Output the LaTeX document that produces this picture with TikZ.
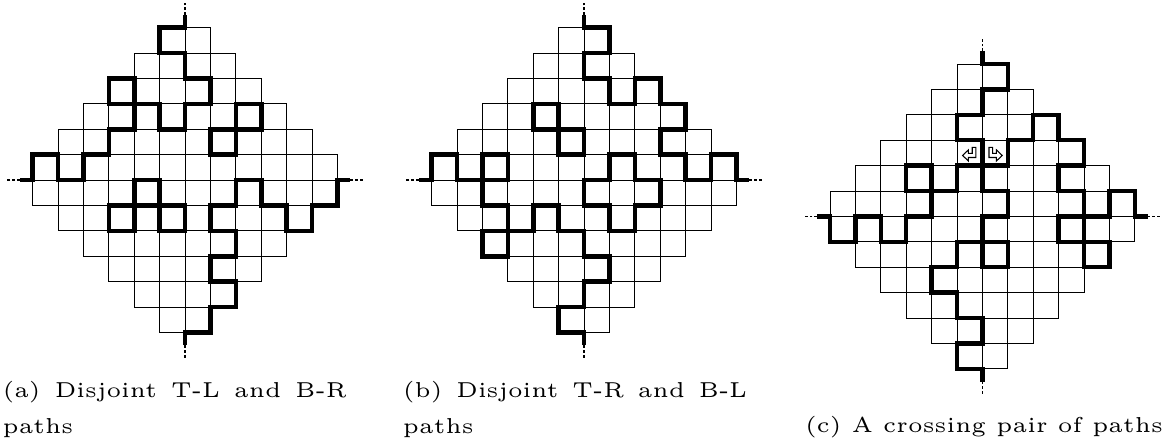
\documentclass[tikz,border=0pt]{standalone}
\usepackage{tikz}
\usetikzlibrary{positioning}

% Aztec diamond of order 6, cells of side 1
\newcommand{\aztecgrid}{%
  \foreach \r in {0,...,11}{%
    \pgfmathtruncatemacro{\azh}{min(\r,11-\r)}%
    \pgfmathtruncatemacro{\azlo}{5-\azh}%
    \pgfmathtruncatemacro{\azhi}{6+\azh}%
    \foreach \c in {\azlo,...,\azhi}{\draw[cellline] (\c,\r) rectangle +(1,1);}%
  }}

\begin{document}
\begin{tikzpicture}[x=5mm, y=-5mm, line join=miter,
    cellline/.style={line width=0.5pt},
    walk/.style={line width=2.5pt},
    tail/.style={line width=1pt, dash pattern=on 1.6pt off 1.1pt},
    turn/.style={line width=0.6pt, fill=white},
    subcap/.style={font=\fontsize{5}{8.4}\selectfont, scale=2.42, transform shape, inner sep=0pt},
    subpar/.style={subcap, text width=2.8cm, align=justify}]
  \useasboundingbox (0,0) rectangle (46.063,17.480);

  % (a) disjoint T-L and B-R
  \begin{scope}[shift={(1.287,1.091)}]
    \aztecgrid
    \draw[walk] (6,-0.5) -- (6,0) -- (5,0) -- (5,1) -- (6,1) -- (6,2) -- (7,2) -- (7,3) -- (6,3) -- (6,4) -- (5,4) -- (5,3)
      -- (4,3) -- (4,2) -- (3,2) -- (3,3) -- (4,3) -- (4,4) -- (3,4) -- (3,5) -- (2,5) -- (2,6) -- (1,6) -- (1,5) -- (0,5)
      -- (0,6) -- (-0.5,6);
    \draw[walk] (8,4) -- (8,3) -- (9,3) -- (9,4) -- (7,4) -- (7,5) -- (8,5) -- cycle;
    \draw[walk] (4,7) -- (4,6) -- (5,6) -- (5,8) -- (6,8) -- (6,7) -- (3,7) -- (3,8) -- (4,8) -- cycle;
    \draw[walk] (6,12.5) -- (6,12) -- (7,12) -- (7,11) -- (8,11) -- (8,10) -- (7,10) -- (7,9) -- (8,9) -- (8,8) -- (7,8)
      -- (7,7) -- (8,7) -- (8,6) -- (9,6) -- (9,7) -- (10,7) -- (10,8) -- (11,8) -- (11,7) -- (12,7) -- (12,6) -- (12.5,6);
    \draw[tail] (6,-0.5) -- (6,-1.05);
    \draw[tail] (-0.5,6) -- (-1.05,6);
    \draw[tail] (12.5,6) -- (13.05,6);
    \draw[tail] (6,12.5) -- (6,13.05);
  \end{scope}

  % (b) disjoint T-R and B-L
  \begin{scope}[shift={(16.995,1.091)}]
    \aztecgrid
    \draw[walk] (6,-0.5) -- (6,0) -- (7,0) -- (7,1) -- (6,1) -- (6,2) -- (7,2) -- (7,3) -- (8,3) -- (8,2) -- (9,2) -- (9,3)
      -- (10,3) -- (10,4) -- (9,4) -- (9,5) -- (10,5) -- (10,6) -- (11,6) -- (11,5) -- (12,5) -- (12,6) -- (12.5,6);
    \draw[walk] (5,4) -- (5,3) -- (4,3) -- (4,4) -- (6,4) -- (6,5) -- (5,5) -- cycle;
    \draw[walk] (7,5) -- (8,5) -- (8,6) -- (9,6) -- (9,7) -- (8,7) -- (8,8) -- (7,8) -- (7,7) -- (6,7) -- (6,6) -- (7,6) -- cycle;
    \draw[walk] (6,12.5) -- (6,12) -- (5,12) -- (5,11) -- (6,11) -- (6,10) -- (7,10) -- (7,9) -- (6,9) -- (6,8) -- (5,8)
      -- (5,7) -- (4,7) -- (4,8) -- (2,8) -- (2,9) -- (3,9) -- (3,7) -- (2,7) -- (2,5) -- (3,5) -- (3,6) -- (1,6) -- (1,5)
      -- (0,5) -- (0,6) -- (-0.5,6);
    \draw[tail] (6,-0.5) -- (6,-1.05);
    \draw[tail] (-0.5,6) -- (-1.05,6);
    \draw[tail] (12.5,6) -- (13.05,6);
    \draw[tail] (6,12.5) -- (6,13.05);
  \end{scope}

  % (c) crossing pair
  \begin{scope}[shift={(32.677,2.520)}]
    \aztecgrid
    \draw[walk] (6,-0.5) -- (6,0) -- (7,0) -- (7,1) -- (6,1) -- (6,2) -- (5,2) -- (5,3) -- (6,3) -- (6,4) -- (7,4) -- (7,3)
      -- (8,3) -- (8,2) -- (9,2) -- (9,3) -- (10,3) -- (10,4) -- (9,4) -- (9,5) -- (10,5) -- (10,8) -- (11,8) -- (11,7)
      -- (9,7) -- (9,6) -- (11,6) -- (11,5) -- (12,5) -- (12,6) -- (12.5,6);
    \draw[walk] (-0.5,6) -- (0,6) -- (0,7) -- (1,7) -- (1,6) -- (2,6) -- (2,7) -- (3,7) -- (3,6) -- (4,6) -- (4,4) -- (3,4)
      -- (3,5) -- (5,5) -- (5,4) -- (6,4) -- (6,5) -- (7,5) -- (7,6) -- (6,6) -- (6,8) -- (7,8) -- (7,7) -- (5,7) -- (5,8)
      -- (4,8) -- (4,9) -- (5,9) -- (5,10) -- (6,10) -- (6,11) -- (5,11) -- (5,12) -- (6,12) -- (6,12.5);
    \draw[turn, shift={(5,3)}] (0.74,0.28) -- (0.60,0.28) -- (0.60,0.52) -- (0.45,0.52) -- (0.45,0.38) -- (0.22,0.60)
      -- (0.45,0.82) -- (0.45,0.68) -- (0.74,0.68) -- cycle;
    \draw[turn, shift={(6,3)}] (0.26,0.28) -- (0.40,0.28) -- (0.40,0.52) -- (0.55,0.52) -- (0.55,0.38) -- (0.78,0.60)
      -- (0.55,0.82) -- (0.55,0.68) -- (0.26,0.68) -- cycle;
    \draw[tail] (6,-0.5) -- (6,-1.05);
    \draw[tail] (-0.5,6) -- (-1.05,6);
    \draw[tail] (12.5,6) -- (13.05,6);
    \draw[tail] (6,12.5) -- (6,13.05);
  \end{scope}

  \node[subpar, anchor=north west] (capa) at (0.067,14.98) {(a) Disjoint T-L and B-R\linebreak paths};
  \node[subpar, anchor=north west] (capb) at (15.83,14.98) {(b) Disjoint T-R and B-L\linebreak paths};
  \node[subcap, anchor=base] (capc) at (38.74,17.01) {(c) A crossing pair of paths};
\end{tikzpicture}
\end{document}
